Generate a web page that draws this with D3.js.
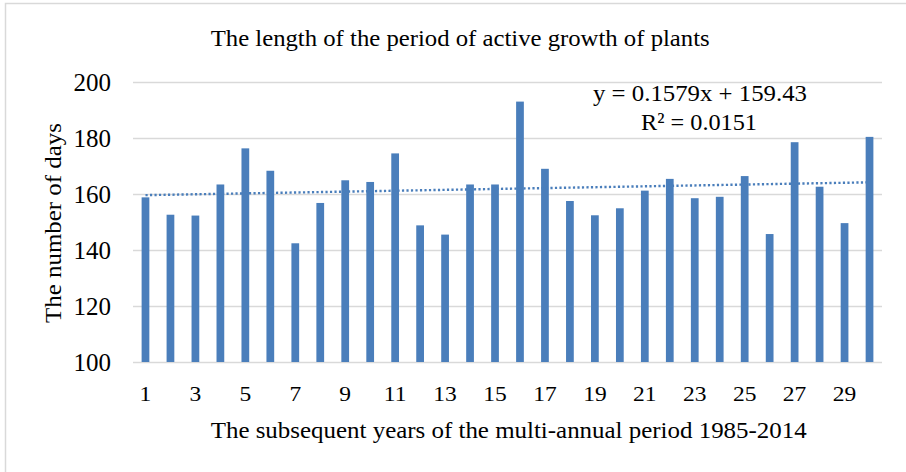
<!DOCTYPE html>
<html><head><meta charset="utf-8">
<script src="https://cdn.jsdelivr.net/npm/d3@7"></script>
<style>body{margin:0;background:#fff}svg{display:block}svg text{font-family:"Liberation Serif","Times New Roman",Times,serif !important;fill:#000 !important}</style>
</head><body><svg id="c" width="906" height="472"></svg>
<script>
const years = d3.range(1, 31);
const days = [158.8,152.6,152.3,163.4,176.3,168.3,142.4,156.8,164.9,164.3,174.5,148.8,145.5,163.4,163.4,193.0,169.0,157.5,152.4,154.9,161.2,165.4,158.5,159.0,166.4,145.7,178.5,162.6,149.6,180.4];
const yTicks = [100,120,140,160,180,200];
const xTickLabels = years.filter(d => d % 2 === 1);
const trendSlope = 0.1579, trendIntercept = 159.43;
const title = "The length of the period of active growth of plants";
const xTitle = "The subsequent years of the multi-annual period 1985-2014";
const yTitle = "The number of days";
const eqLines = ["y = 0.1579x + 159.43", "R² = 0.0151"];

const svg = d3.select("#c");
const blue = "#4a7ebb", grid = "#d9d9d9";
// chart border
svg.append("rect").attr("x",5.5).attr("y",3.5).attr("width",920).attr("height",500)
  .attr("fill","none").attr("stroke",grid).attr("stroke-width",1.5);

const x = d3.scaleBand().domain(years).range([133,882]).paddingInner(0.69).paddingOuter(0.345);
const y = d3.scaleLinear().domain([100,200]).range([362,82]);

// gridlines
const ga = svg.append("g").attr("transform","translate(133,0)")
  .call(d3.axisLeft(y).tickValues(yTicks).tickSize(-749).tickFormat(""));
ga.select(".domain").remove();
ga.selectAll(".tick line").attr("stroke",grid).attr("stroke-width",1.3);

// y tick labels
const yl = svg.append("g").attr("transform","translate(111,0)")
  .call(d3.axisLeft(y).tickValues(yTicks).tickSize(0).tickPadding(0));
yl.select(".domain").remove();
yl.selectAll("text").style("font-size","25px").attr("dy","0.35em");

// bars
svg.append("g").selectAll("rect").data(days).join("rect")
  .attr("x",(d,i)=>x(years[i])).attr("width",x.bandwidth())
  .attr("y",d=>y(d)).attr("height",d=>y(100)-y(d)).attr("fill",blue);

// trendline
const line = d3.line().x(d=>x(d)+x.bandwidth()/2).y(d=>y(trendSlope*d+trendIntercept));
svg.append("path").datum([years[0], years[years.length-1]]).attr("d",line)
  .attr("fill","none").attr("stroke",blue).attr("stroke-width",2.4).attr("stroke-dasharray","2.2,2.3");

// x tick labels
const xa = svg.append("g").attr("transform","translate(0,401)")
  .call(d3.axisBottom(x).tickValues(xTickLabels).tickSize(0).tickPadding(0));
xa.select(".domain").remove();
xa.selectAll("text").attr("dy",0).attr("y",0).attr("x",0).style("font-size","21px")
  .attr("transform","scale(1.12,1)");

// titles
svg.append("text").attr("x",210.7).attr("y",46).attr("textLength",499).attr("lengthAdjust","spacingAndGlyphs")
  .style("font-size","24px").text(title);
svg.append("text").attr("x",210.7).attr("y",438).attr("textLength",596).attr("lengthAdjust","spacingAndGlyphs")
  .style("font-size","24px").text(xTitle);
svg.append("text").attr("transform","translate(61,323) rotate(-90)").attr("textLength",200).attr("lengthAdjust","spacingAndGlyphs")
  .style("font-size","24px").text(yTitle);

// equation
svg.append("text").attr("x",593).attr("y",101).attr("textLength",214).attr("lengthAdjust","spacingAndGlyphs")
  .style("font-size","24px").text(eqLines[0]);
svg.append("text").attr("x",641).attr("y",129.5).attr("textLength",116).attr("lengthAdjust","spacingAndGlyphs")
  .style("font-size","24px").text(eqLines[1]);
</script></body></html>
